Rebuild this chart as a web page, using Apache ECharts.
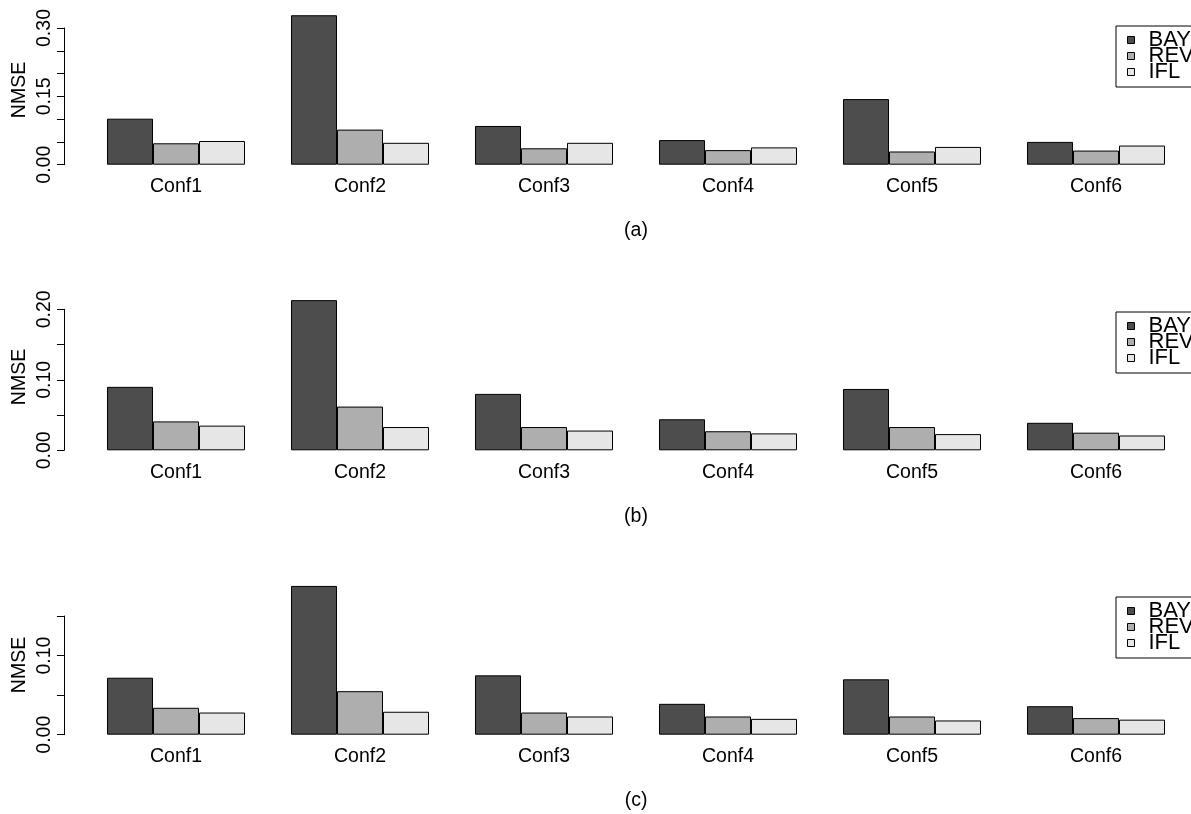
<!DOCTYPE html>
<html>
<head>
<meta charset="utf-8">
<script src="https://cdn.jsdelivr.net/npm/echarts@6/dist/echarts.min.js"></script>
<style>
  html, body { margin: 0; padding: 0; background: #fff; }
  #chart { width: 1191px; height: 814px; }
</style>
</head>
<body>
<div id="chart"></div>
<script>
// Configurations on the category axis
const categories = ['Conf1', 'Conf2', 'Conf3', 'Conf4', 'Conf5', 'Conf6'];
const methods = ['BAY', 'REV', 'IFL'];

// NMSE per configuration, panel (a)
const a_BAY = [0.101, 0.328, 0.085, 0.054, 0.144, 0.050];
const a_REV = [0.047, 0.077, 0.036, 0.032, 0.029, 0.031];
const a_IFL = [0.052, 0.048, 0.048, 0.038, 0.039, 0.042];

// NMSE per configuration, panel (b)
const b_BAY = [0.090, 0.213, 0.080, 0.044, 0.087, 0.039];
const b_REV = [0.041, 0.062, 0.033, 0.027, 0.033, 0.025];
const b_IFL = [0.035, 0.033, 0.028, 0.024, 0.023, 0.021];

// NMSE per configuration, panel (c)
const c_BAY = [0.072, 0.188, 0.075, 0.039, 0.070, 0.036];
const c_REV = [0.034, 0.055, 0.028, 0.023, 0.023, 0.021];
const c_IFL = [0.028, 0.029, 0.023, 0.020, 0.018, 0.019];

// Axis ticks: every 0.05, only some of them labelled
const a_max = 0.30, b_max = 0.20, c_max = 0.15;
const a_tickLabels = ['0.00', '0.15', '0.30'];
const b_tickLabels = ['0.00', '0.10', '0.20'];
const c_tickLabels = ['0.00', '0.10'];

const panelTitles = ['(a)', '(b)', '(c)'];

const FONT = '"Liberation Sans", Arial, Helvetica, sans-serif';
const FS = 19.5;
const COLORS = ['#4D4D4D', '#AEAEAE', '#E6E6E6'];

const panels = [
  { data: [a_BAY, a_REV, a_IFL], max: a_max, labels: a_tickLabels, top: 28,    height: 136.7, legendTop: 26 },
  { data: [b_BAY, b_REV, b_IFL], max: b_max, labels: b_tickLabels, top: 309.3, height: 141,   legendTop: 312 },
  { data: [c_BAY, c_REV, c_IFL], max: c_max, labels: c_tickLabels, top: 616,   height: 118.7, legendTop: 597 }
];

const grid = [], xAxis = [], yAxis = [], series = [], legend = [], graphic = [];

panels.forEach((p, i) => {
  grid.push({ left: 84, width: 1104, top: p.top, height: p.height });
  xAxis.push({
    type: 'category',
    gridIndex: i,
    data: categories,
    axisLine: { show: false },
    axisTick: { show: false },
    axisLabel: { color: '#000', fontSize: FS, fontFamily: FONT, margin: 12 },
    name: panelTitles[i],
    nameLocation: 'middle',
    nameGap: 56,
    nameTextStyle: { color: '#000', fontSize: FS, fontFamily: FONT }
  });
  yAxis.push({
    type: 'value',
    gridIndex: i,
    min: 0,
    max: p.max,
    interval: 0.05,
    offset: 20,
    splitLine: { show: false },
    axisLine: { show: true, lineStyle: { color: '#000', width: 1 } },
    axisTick: { show: true, length: 7, lineStyle: { color: '#000', width: 1 } },
    axisLabel: {
      rotate: 90,
      margin: 9,
      color: '#000',
      fontSize: FS,
      fontFamily: FONT,
      formatter: v => {
        const s = v.toFixed(2);
        return p.labels.includes(s) ? s : '';
      }
    }
  });
  methods.forEach((m, k) => {
    series.push({
      type: 'bar',
      name: m,
      xAxisIndex: i,
      yAxisIndex: i,
      data: p.data[k],
      barGap: '0%',
      barCategoryGap: '25%',
      clip: false,
      silent: true,
      animation: false,
      itemStyle: { color: COLORS[k], borderColor: '#000', borderWidth: 1 }
    });
  });
  legend.push({
    data: methods,
    orient: 'vertical',
    left: 1116,
    top: p.legendTop,
    itemWidth: 7,
    itemHeight: 7,
    itemGap: -6,
    icon: 'rect',
    padding: [3, 30, 4, 11],
    borderColor: '#000',
    borderWidth: 1,
    selectedMode: false,
    itemStyle: { borderColor: '#000', borderWidth: 1 },
    textStyle: { color: '#000', fontSize: 22, fontFamily: FONT, padding: [10, 0, 0, 9] }
  });
});

// Y-axis titles
const nmseCenters = [90, 377, 665];
nmseCenters.forEach(cy => {
  graphic.push({
    type: 'text',
    x: 20,
    y: cy,
    rotation: Math.PI / 2,
    style: {
      text: 'NMSE',
      fill: '#000',
      font: FS + 'px ' + FONT,
      align: 'center',
      verticalAlign: 'middle'
    }
  });
});

const chart = echarts.init(document.getElementById('chart'), null, { renderer: 'canvas' });
chart.setOption({
  animation: false,
  backgroundColor: '#fff',
  grid, xAxis, yAxis, series, legend, graphic
});
</script>
</body>
</html>
